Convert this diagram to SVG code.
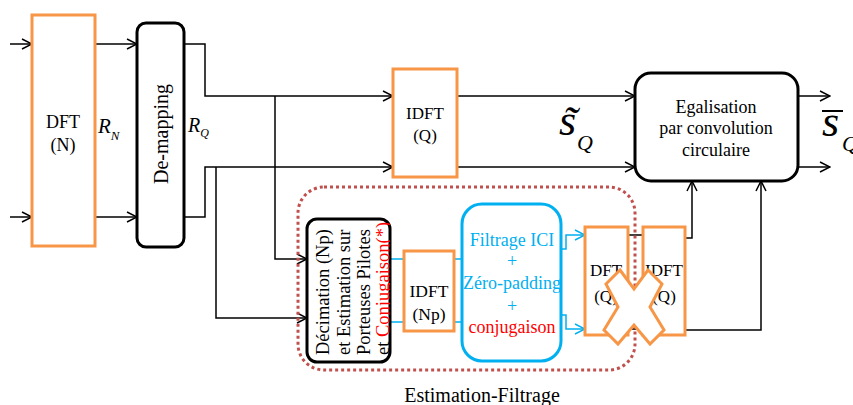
<svg xmlns="http://www.w3.org/2000/svg" width="853" height="405" viewBox="0 0 853 405">
<defs>
<style>
text{font-family:"Liberation Serif","Times New Roman",serif;fill:#000}
.c{text-anchor:middle}
.it{font-style:italic}
.ln{fill:none;stroke:#000;stroke-width:1.5}
.bl{fill:none;stroke:#00B0F0;stroke-width:1.5}
.or{fill:#fff;stroke:#F79646;stroke-width:3}
.bk{fill:#fff;stroke:#000;stroke-width:3}
.bb{fill:#fff;stroke:#00B0F0;stroke-width:3}
.red{fill:#FF0000}
.blt{fill:#00B0F0}
</style>
<marker id="ah" markerWidth="12" markerHeight="12" refX="11" refY="6" orient="auto" markerUnits="userSpaceOnUse"><path d="M1,1 L11,6 L1,11" fill="none" stroke="#000" stroke-width="1.5"/></marker>
<marker id="ahb" markerWidth="12" markerHeight="12" refX="11" refY="6" orient="auto" markerUnits="userSpaceOnUse"><path d="M1,1 L11,6 L1,11" fill="none" stroke="#00B0F0" stroke-width="1.5"/></marker>
<clipPath id="dclip"><rect x="307" y="220" width="83" height="142"/></clipPath>
</defs>
<rect width="853" height="405" fill="#fff"/>

<g id="connectors">
<path class="ln" d="M10,44 H32" marker-end="url(#ah)"/>
<path class="ln" d="M10,217 H32" marker-end="url(#ah)"/>
<path class="ln" d="M95,44 H137" marker-end="url(#ah)"/>
<path class="ln" d="M95,217 H137" marker-end="url(#ah)"/>
<path class="ln" d="M184,44 H205 V96 H393" marker-end="url(#ah)"/>
<path class="ln" d="M184,217 H205 V167 H393" marker-end="url(#ah)"/>
<path class="ln" d="M275,96 V259 H307" marker-end="url(#ah)"/>
<path class="ln" d="M216,167 V318 H307" marker-end="url(#ah)"/>
<path class="ln" d="M457,96 H635" marker-end="url(#ah)"/>
<path class="ln" d="M457,167 H635" marker-end="url(#ah)"/>
<path class="ln" d="M798,96 H830" marker-end="url(#ah)"/>
<path class="ln" d="M798,167 H830" marker-end="url(#ah)"/>
<path class="bl" d="M390,259 H404 M390,322 H404 M454,259 H462 M454,322 H462"/>
<path class="bl" d="M561,249 H566 V235 H585" marker-end="url(#ahb)"/>
<path class="bl" d="M561,315 H566 V329 H585" marker-end="url(#ahb)"/>
<path class="ln" d="M628,235 H643 M628,329 H643"/>
<path class="ln" d="M685,238 H692 V181" marker-end="url(#ah)"/>
<path class="ln" d="M685,330 H761 V181" marker-end="url(#ah)"/>
</g>

<g id="dft-n">
<rect class="or" x="32" y="15" width="63" height="231"/>
<text class="c" x="63" y="128" font-size="18">DFT</text>
<text class="c" x="63" y="151" font-size="18">(N)</text>
</g>
<g id="label-rn"><text class="it" x="98" y="132.5" font-size="21">R<tspan font-size="13" dy="7">N</tspan></text></g>

<g id="demapping">
<rect class="bk" x="137" y="23" width="47" height="224" rx="9"/>
<text class="c" transform="translate(168,134) rotate(-90)" font-size="20">De-mapping</text>
</g>
<g id="label-rq"><text class="it" x="188" y="132" font-size="20">R<tspan font-size="12" dy="5">Q</tspan></text></g>

<g id="idft-q">
<rect class="or" x="393" y="69" width="64" height="108"/>
<text class="c" x="425" y="119" font-size="17">IDFT</text>
<text class="c" x="425" y="141" font-size="17">(Q)</text>
</g>

<g id="label-stilde">
<text class="it" x="559" y="135" font-size="44">s</text>
<text class="it c" x="570" y="137" font-size="44">˜</text>
<text class="it" x="577" y="150" font-size="22">Q</text>
</g>

<g id="egalisation">
<rect class="bk" x="635" y="73" width="163" height="108" rx="16"/>
<text class="c" x="716" y="113" font-size="18">Egalisation</text>
<text class="c" x="716" y="134" font-size="18">par convolution</text>
<text class="c" x="716" y="156" font-size="18">circulaire</text>
</g>

<g id="label-sbar">
<line x1="822" y1="111" x2="843" y2="111" stroke="#000" stroke-width="2"/>
<text class="it" x="822" y="136" font-size="44">s</text>
<text class="it" x="842" y="151" font-size="22">Q</text>
</g>

<g id="decimation">
<rect class="bk" x="307" y="219" width="83" height="143" rx="10"/>
<g clip-path="url(#dclip)" font-size="18.5">
<text transform="translate(329,355) rotate(-90)">Décimation (Np)</text>
<text transform="translate(350,355) rotate(-90)">et Estimation sur</text>
<text transform="translate(370,355) rotate(-90)">Porteuses Pilotes</text>
<text transform="translate(389,355) rotate(-90)">et <tspan class="red">Conjugaison(*)</tspan></text>
</g>
</g>

<g id="idft-np">
<rect class="or" x="404" y="251" width="50" height="80"/>
<text class="c" x="429" y="297" font-size="17.5">IDFT</text>
<text class="c" x="429" y="320" font-size="17.5">(Np)</text>
</g>

<g id="filtrage">
<rect class="bb" x="462" y="204" width="99" height="157" rx="20"/>
<text class="c blt" x="512" y="246" font-size="18">Filtrage ICI</text>
<text class="c blt" x="512" y="267" font-size="18">+</text>
<text class="c blt" x="512" y="289" font-size="18">Zéro-padding</text>
<text class="c blt" x="512" y="312" font-size="18">+</text>
<text class="c red" x="512" y="333" font-size="18">conjugaison</text>
</g>

<g id="dft-q">
<rect class="or" x="585" y="227" width="43" height="108"/>
<text class="c" x="606" y="276" font-size="17">DFT</text>
<text class="c" x="606" y="302" font-size="17">(Q)</text>
</g>
<g id="idft-q2">
<rect class="or" x="643" y="227" width="42" height="108"/>
<text class="c" x="664" y="276" font-size="17">IDFT</text>
<text class="c" x="664" y="302" font-size="17">(Q)</text>
</g>

<g id="estimation-filtrage">
<rect x="298" y="187" width="337" height="183" rx="26" fill="none" stroke="#C0504D" stroke-width="3" stroke-dasharray="3 3"/>
<text class="c" x="482" y="402" font-size="20">Estimation-Filtrage</text>
</g>

<g id="cross">
<polygon points="620,270 634,289 648,270 662,284 650,307 664,330 650,344 634,325 618,344 604,330 618,307 606,284" fill="#fff" stroke="#F79646" stroke-width="3" stroke-linejoin="miter"/>
</g>
</svg>
